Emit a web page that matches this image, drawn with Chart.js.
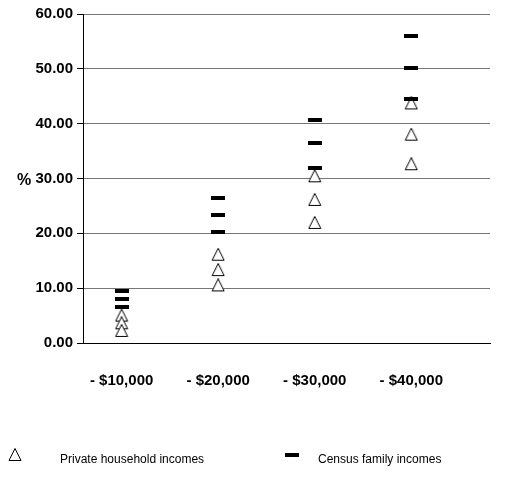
<!DOCTYPE html>
<html>
<head>
<meta charset="utf-8">
<script src="https://cdn.jsdelivr.net/npm/chart.js@4/dist/chart.umd.min.js"></script>
<style>
  html, body { margin: 0; padding: 0; background: #fff; }
  #wrap { position: relative; width: 522px; height: 493px; }
</style>
</head>
<body>
<div id="wrap"><canvas id="c" width="522" height="493"></canvas></div>
<script>
// Income brackets on the horizontal axis
const categories = ['- $10,000', '- $20,000', '- $30,000', '- $40,000'];

// Three readings per bracket, highest first (%)
const privateHousehold = [
  [5.0, 3.6, 2.2],
  [16.1, 13.3, 10.5],
  [30.4, 26.1, 21.9],
  [43.7, 38.0, 32.6]
];
const censusFamily = [
  [9.4, 8.0, 6.6],
  [26.4, 23.3, 20.3],
  [40.7, 36.4, 32.0],
  [55.9, 50.1, 44.5]
];

// Value-axis ticks
const yTicks = [0, 10, 20, 30, 40, 50, 60];

function toPoints(rows) {
  const pts = [];
  rows.forEach((vals, i) => vals.forEach(v => pts.push({ x: i + 1, y: v })));
  return pts;
}

// Marker images: open triangle and short thick dash
function triangleMarker() {
  const c = document.createElement('canvas');
  c.width = 14; c.height = 14;
  const g = c.getContext('2d');
  g.beginPath();
  g.moveTo(7, 0.5);
  g.lineTo(13, 12.5);
  g.lineTo(1, 12.5);
  g.closePath();
  g.fillStyle = '#fff';
  g.fill();
  g.strokeStyle = '#000';
  g.lineWidth = 1;
  g.stroke();
  return c;
}
function dashMarker() {
  const c = document.createElement('canvas');
  c.width = 14; c.height = 4;
  const g = c.getContext('2d');
  g.fillStyle = '#000';
  g.fillRect(0, 0, 14, 4);
  return c;
}
const triImg = triangleMarker();
const dashImg = dashMarker();

// Horizontal "%" title beside the value axis
const percentTitle = {
  id: 'percentTitle',
  afterDraw(chart) {
    const ctx = chart.ctx, y = chart.scales.y;
    ctx.save();
    ctx.font = 'bold 16px "Liberation Sans", Arial, sans-serif';
    ctx.fillStyle = '#000';
    ctx.textAlign = 'center';
    ctx.textBaseline = 'middle';
    ctx.fillText('%', 24, y.getPixelForValue(30) + 2);
    ctx.restore();
  }
};

// Legend row with a wide gap between marker and text
const wideLegend = {
  id: 'wideLegend',
  afterDraw(chart, args, opts) {
    const ctx = chart.ctx;
    const cy = chart.height - opts.bottom;
    ctx.save();
    ctx.font = '12px "Liberation Sans", Arial, sans-serif';
    ctx.fillStyle = '#000';
    ctx.textBaseline = 'middle';
    ctx.textAlign = 'left';
    opts.items.forEach((it, i) => {
      const ds = chart.data.datasets[i];
      const img = ds.pointStyle;
      ctx.drawImage(img, Math.round(it.marker - img.width / 2), Math.round(cy - 4 - img.height / 2));
      ctx.fillText(ds.label, it.text, cy + 1);
    });
    ctx.restore();
  }
};

new Chart(document.getElementById('c'), {
  type: 'line',
  data: {
    datasets: [
      {
        label: 'Private household incomes',
        data: toPoints(privateHousehold),
        showLine: false,
        order: 2,
        pointStyle: triImg,
        pointRadius: 7,
        pointHoverRadius: 7
      },
      {
        label: 'Census family incomes',
        data: toPoints(censusFamily),
        showLine: false,
        order: 1,
        pointStyle: dashImg,
        pointRadius: 7,
        pointHoverRadius: 7
      }
    ]
  },
  options: {
    responsive: false,
    animation: false,
    events: [],
    layout: { padding: { top: 14, right: 32, bottom: 0, left: 0 } },
    plugins: {
      legend: { display: false },
      tooltip: { enabled: false },
      wideLegend: {
        bottom: 34,
        items: [ { marker: 15, text: 60 }, { marker: 292, text: 318 } ]
      }
    },
    scales: {
      x: {
        type: 'linear',
        min: 0.6,
        max: 4.815,
        afterBuildTicks(s) { s.ticks = categories.map((c, i) => ({ value: i + 1 })); },
        grid: { display: false, drawTicks: false },
        border: { display: true, color: '#000', width: 1 },
        ticks: {
          padding: 29,
          color: '#000',
          maxRotation: 0,
          autoSkip: false,
          font: { family: '"Liberation Sans", Arial, sans-serif', size: 15, weight: 'bold' },
          callback: v => categories[v - 1]
        },
        afterFit(s) { s.height = 150; }
      },
      y: {
        min: 0,
        max: 60,
        afterBuildTicks(s) { s.ticks = yTicks.map(v => ({ value: v })); },
        grid: {
          color: ctx => (ctx.tick && ctx.tick.value === 0) ? '#000' : '#777',
          tickColor: '#000',
          tickLength: 6,
          lineWidth: 1
        },
        border: { display: true, color: '#000', width: 1 },
        ticks: {
          padding: 4,
          color: '#000',
          font: { family: '"Liberation Sans", Arial, sans-serif', size: 15, weight: 'bold' },
          callback: v => Number(v).toFixed(2)
        },
        afterFit(s) { s.width = 83; }
      }
    }
  },
  plugins: [percentTitle, wideLegend]
});
</script>
</body>
</html>
